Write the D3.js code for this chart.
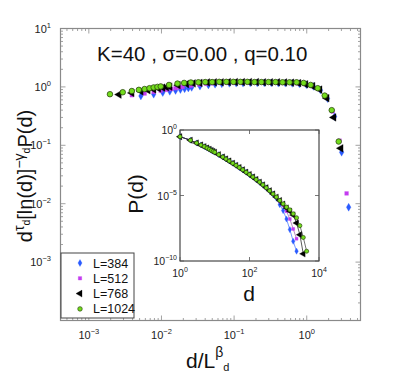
<!DOCTYPE html>
<html lang="en">
<head>
<meta charset="UTF-8">
<title>Scaled distance distribution</title>
<script src="https://cdnjs.cloudflare.com/ajax/libs/d3/7.8.5/d3.min.js"></script>
<style>
  body { margin: 0; background: #fff; }
  text { font-family: "Liberation Sans", Arial, sans-serif; }
</style>
</head>
<body>
<div id="container"></div>
<script>
// system sizes
var sizes = [384, 512, 768, 1024];
var beta = 1.0;

// distance bins d, shared by every size
var dBins = [1, 2, 3, 4, 5, 6, 7, 8, 9, 10, 13, 17, 21, 26, 33, 41, 51, 64, 80, 100,
  125, 156, 195, 243, 304, 380, 475, 594, 742, 928, 1160, 1450, 1810, 2260, 2820, 3530, 4410];

// main panel: d^tau [ln d]^-gamma P(d), from d = 2 on (ln 1 = 0)
var scaled384 = [0.70, 0.75, 0.80, 0.84, 0.87, 0.90, 0.93, 0.96, 0.98,
  1.03, 1.08, 1.11, 1.13, 1.15, 1.16, 1.16, 1.17, 1.17, 1.17, 1.17, 1.16, 1.16, 1.15,
  1.13, 1.09, 1.02, 0.88, 0.63, 0.31, 0.076, 0.0087];
var scaled512 = [0.72, 0.77, 0.82, 0.86, 0.89, 0.92, 0.95, 0.98, 1.00,
  1.05, 1.10, 1.13, 1.15, 1.17, 1.18, 1.18, 1.18, 1.19, 1.19, 1.19, 1.18, 1.18, 1.17,
  1.17, 1.15, 1.12, 1.04, 0.92, 0.70, 0.38, 0.12, 0.015];
var scaled768 = [0.74, 0.79, 0.84, 0.88, 0.91, 0.94, 0.97, 0.99, 1.01,
  1.07, 1.12, 1.15, 1.17, 1.19, 1.20, 1.20, 1.21, 1.21, 1.21, 1.21, 1.21, 1.20, 1.20,
  1.20, 1.19, 1.18, 1.16, 1.11, 1.03, 0.90, 0.64, 0.30, 0.089];
var scaled1024 = [0.75, 0.81, 0.85, 0.89, 0.92, 0.95, 0.98, 1.00, 1.02,
  1.08, 1.14, 1.17, 1.19, 1.20, 1.21, 1.21, 1.22, 1.22, 1.22, 1.22, 1.22, 1.21, 1.21,
  1.21, 1.21, 1.20, 1.20, 1.20, 1.17, 1.08, 0.95, 0.71, 0.40, 0.116];

// inset: raw P(d), from d = 1 on
var prob384 = [3.1e-1, 1.66e-1, 1.02e-1, 7.2e-2, 5.4e-2, 4.2e-2, 3.4e-2, 2.75e-2, 2.34e-2, 2.0e-2,
  1.32e-2, 8.7e-3, 6.2e-3, 4.3e-3, 2.9e-3, 2.0e-3, 1.35e-3, 9.0e-4, 6.0e-4, 3.9e-4,
  2.6e-4, 1.65e-4, 1.04e-4, 6.4e-5, 3.8e-5, 2.2e-5, 1.25e-5, 6.3e-6, 2.0e-6, 7.1e-7,
  1.6e-7, 2.5e-8, 3.2e-9, 5.6e-10];
var prob512 = [3.1e-1, 1.66e-1, 1.02e-1, 7.2e-2, 5.4e-2, 4.2e-2, 3.4e-2, 2.75e-2, 2.34e-2, 2.0e-2,
  1.32e-2, 8.7e-3, 6.2e-3, 4.3e-3, 2.9e-3, 2.0e-3, 1.35e-3, 9.1e-4, 6.0e-4, 4.0e-4,
  2.6e-4, 1.66e-4, 1.05e-4, 6.5e-5, 3.9e-5, 2.3e-5, 1.3e-5, 7.3e-6, 3.5e-6, 1.8e-6,
  6.3e-7, 1.6e-7, 2.8e-8, 5.0e-9];
var prob768 = [3.1e-1, 1.66e-1, 1.02e-1, 7.2e-2, 5.4e-2, 4.2e-2, 3.4e-2, 2.75e-2, 2.34e-2, 2.0e-2,
  1.32e-2, 8.7e-3, 6.2e-3, 4.3e-3, 2.9e-3, 2.0e-3, 1.35e-3, 9.1e-4, 6.0e-4, 4.0e-4,
  2.6e-4, 1.66e-4, 1.05e-4, 6.5e-5, 3.9e-5, 2.3e-5, 1.32e-5, 7.5e-6, 4.1e-6, 2.2e-6,
  1.1e-6, 6.3e-7, 3.2e-7, 7.9e-8, 1.0e-8, 3.5e-10];
var prob1024 = [3.1e-1, 1.66e-1, 1.02e-1, 7.2e-2, 5.4e-2, 4.2e-2, 3.4e-2, 2.75e-2, 2.34e-2, 2.0e-2,
  1.32e-2, 8.7e-3, 6.2e-3, 4.3e-3, 2.9e-3, 2.0e-3, 1.35e-3, 9.1e-4, 6.0e-4, 4.0e-4,
  2.6e-4, 1.66e-4, 1.05e-4, 6.5e-5, 3.9e-5, 2.3e-5, 1.32e-5, 7.6e-6, 4.2e-6, 2.3e-6,
  1.3e-6, 8.0e-7, 4.0e-7, 2.0e-7, 5.0e-8, 6.3e-9, 5.6e-10];

var mainTicksX = [-3, -2, -1, 0];
var mainTicksY = [-3, -2, -1, 0, 1];
var insetTicksX = [0, 2, 4];
var insetTicksY = [-10, -5, 0];

var scaledBySize = [scaled384, scaled512, scaled768, scaled1024];
var probBySize = [prob384, prob512, prob768, prob1024];

// look of each size, drawn in this order
var fills = ["#2a5bff", "#c43cf0", "#000000", "#72dc1c"];
var strokes = ["#2a5bff", "#c43cf0", "#000000", "#2d4a10"];
var lineColors = ["#3b6bff", "#9b5aa8", "#111111", "#333333"];
var shapes = [d3.symbolDiamond, d3.symbolSquare, d3.symbolTriangle, d3.symbolCircle];
var mainSizes = [18, 14, 26, 24];
var insetSizes = [11, 9, 18, 13];

var width = 399, height = 374;
var svg = d3.select("#container").append("svg")
  .attr("width", width)
  .attr("height", height);

var frame = { left: 60.5, right: 360.5, top: 28.5, bottom: 320.5 };
var inset = { left: 180, right: 319, top: 130, bottom: 261 };

var x = d3.scaleLog().domain([Math.pow(10, -3.39), Math.pow(10, 0.74)]).range([frame.left, frame.right]);
var y = d3.scaleLog().domain([1e-4, 10]).range([frame.bottom, frame.top]);
var xi = d3.scaleLog().domain([1, 1e4]).range([inset.left, inset.right]);
var yi = d3.scaleLog().domain([1e-10, 1]).range([inset.bottom, inset.top]);

function powLabel(sel, k, sup) {
  sel.append("tspan").text("10");
  sel.append("tspan").attr("dy", -5).attr("font-size", sup).text(String(k).replace("-", "\u2212"));
}

function symbolPath(i, size) {
  return d3.symbol().type(shapes[i]).size(size)();
}

function symbolTransform(i, px, py) {
  return "translate(" + px + "," + py + ")" + (i == 2 ? " rotate(-90)" : "");
}

// ---- main frame, ticks
var axisColor = "#8a8a8a";
svg.append("rect")
  .attr("x", frame.left).attr("y", frame.top)
  .attr("width", frame.right - frame.left).attr("height", frame.bottom - frame.top)
  .attr("fill", "none").attr("stroke", axisColor).attr("stroke-width", 1.2);

var gTicks = svg.append("g").attr("stroke", axisColor).attr("stroke-width", 0.8);
x.ticks().forEach(function(t) {
  var major = Math.abs(Math.log10(t) - Math.round(Math.log10(t))) < 1e-6;
  var len = major ? 5 : 2.5;
  var px = x(t);
  gTicks.append("line").attr("x1", px).attr("x2", px).attr("y1", frame.bottom).attr("y2", frame.bottom - len);
  gTicks.append("line").attr("x1", px).attr("x2", px).attr("y1", frame.top).attr("y2", frame.top + len);
});
y.ticks().forEach(function(t) {
  var major = Math.abs(Math.log10(t) - Math.round(Math.log10(t))) < 1e-6;
  var len = major ? 5 : 2.5;
  var py = y(t);
  gTicks.append("line").attr("y1", py).attr("y2", py).attr("x1", frame.left).attr("x2", frame.left + len);
  gTicks.append("line").attr("y1", py).attr("y2", py).attr("x1", frame.right).attr("x2", frame.right - len);
});

mainTicksX.forEach(function(k) {
  svg.append("text")
    .attr("x", x(Math.pow(10, k))).attr("y", 339)
    .attr("text-anchor", "middle").attr("font-size", 11).attr("fill", "#222")
    .call(powLabel, k, 7.5);
});
mainTicksY.forEach(function(k) {
  svg.append("text")
    .attr("x", 51).attr("y", y(Math.pow(10, k)) + 4)
    .attr("text-anchor", "end").attr("font-size", 11).attr("fill", "#222")
    .call(powLabel, k, 7.5);
});

// title
svg.append("text")
  .attr("x", 97).attr("y", 61)
  .attr("font-size", 20.5).attr("fill", "#111")
  .text("K=40 , \u03c3=0.00 , q=0.10");

// main axis labels
var ylab = svg.append("text")
  .attr("transform", "translate(32,176) rotate(-90)")
  .attr("text-anchor", "middle").attr("font-size", 20).attr("fill", "#111");
ylab.append("tspan").text("d");
ylab.append("tspan").attr("font-size", 14).attr("dy", -8).text("\u03c4");
ylab.append("tspan").attr("font-size", 10.5).attr("dy", 6).text("d");
ylab.append("tspan").attr("dy", 2).text("[ln(d)]");
ylab.append("tspan").attr("font-size", 14).attr("dy", -8).text("\u2212\u03b3");
ylab.append("tspan").attr("font-size", 10.5).attr("dy", 6).text("d");
ylab.append("tspan").attr("dy", 2).text("P(d)");

var xlab = svg.append("text")
  .attr("x", 186).attr("y", 368)
  .attr("font-size", 21).attr("fill", "#111");
xlab.append("tspan").text("d/L");
xlab.append("tspan").attr("font-size", 14).attr("dy", -11).text("\u03b2");
xlab.append("tspan").attr("font-size", 11).attr("dy", 14).text("d");

// ---- main data
sizes.forEach(function(L, i) {
  var vals = scaledBySize[i];
  var pts = vals.map(function(v, j) { return { d: dBins[j + 1], v: v }; });
  svg.append("g").selectAll("path").data(pts).enter().append("path")
    .attr("d", symbolPath(i, mainSizes[i]))
    .attr("transform", function(p) { return symbolTransform(i, x(p.d / Math.pow(L, beta)), y(p.v)); })
    .attr("fill", fills[i])
    .attr("stroke", strokes[i])
    .attr("stroke-width", i == 3 ? 0.8 : 0.3);
});

// ---- inset
svg.append("rect")
  .attr("x", inset.left).attr("y", inset.top)
  .attr("width", inset.right - inset.left).attr("height", inset.bottom - inset.top)
  .attr("fill", "#fff").attr("stroke", "#222").attr("stroke-width", 1);

var gi = svg.append("g").attr("stroke", "#555").attr("stroke-width", 0.8);
insetTicksX.forEach(function(k) {
  var px = xi(Math.pow(10, k));
  gi.append("line").attr("x1", px).attr("x2", px).attr("y1", inset.bottom).attr("y2", inset.bottom - 4);
  gi.append("line").attr("x1", px).attr("x2", px).attr("y1", inset.top).attr("y2", inset.top + 4);
  svg.append("text")
    .attr("x", px).attr("y", 277)
    .attr("text-anchor", "middle").attr("font-size", 10.5).attr("fill", "#222")
    .call(powLabel, k, 7);
});
insetTicksY.forEach(function(k) {
  var py = yi(Math.pow(10, k));
  gi.append("line").attr("y1", py).attr("y2", py).attr("x1", inset.left).attr("x2", inset.left + 4);
  gi.append("line").attr("y1", py).attr("y2", py).attr("x1", inset.right).attr("x2", inset.right - 4);
  svg.append("text")
    .attr("x", 177).attr("y", py + 4)
    .attr("text-anchor", "end").attr("font-size", 10.5).attr("fill", "#222")
    .call(powLabel, k, 7);
});

svg.append("text")
  .attr("transform", "translate(143,194) rotate(-90)")
  .attr("text-anchor", "middle").attr("font-size", 21).attr("fill", "#111")
  .text("P(d)");
svg.append("text")
  .attr("x", 249).attr("y", 301)
  .attr("text-anchor", "middle").attr("font-size", 21).attr("fill", "#111")
  .text("d");

var line = d3.line()
  .x(function(p) { return xi(p.d); })
  .y(function(p) { return yi(p.v); });

sizes.forEach(function(L, i) {
  var pts = probBySize[i].map(function(v, j) { return { d: dBins[j], v: v }; });
  svg.append("path").datum(pts)
    .attr("d", line)
    .attr("fill", "none")
    .attr("stroke", lineColors[i])
    .attr("stroke-width", 0.7);
});
sizes.forEach(function(L, i) {
  var pts = probBySize[i].map(function(v, j) { return { d: dBins[j], v: v }; });
  svg.append("g").selectAll("path").data(pts).enter().append("path")
    .attr("d", symbolPath(i, insetSizes[i]))
    .attr("transform", function(p) { return symbolTransform(i, xi(p.d), yi(p.v)); })
    .attr("fill", fills[i])
    .attr("stroke", strokes[i])
    .attr("stroke-width", i == 3 ? 0.7 : 0.3);
});

// ---- legend
var legend = svg.append("g");
legend.append("rect")
  .attr("x", 61).attr("y", 253).attr("width", 73).attr("height", 65)
  .attr("fill", "#fff").attr("stroke", "#444").attr("stroke-width", 1);
sizes.forEach(function(L, i) {
  var ly = 263 + i * 15.3;
  legend.append("path")
    .attr("d", symbolPath(i, insetSizes[i] + 3))
    .attr("transform", symbolTransform(i, 80, ly))
    .attr("fill", fills[i])
    .attr("stroke", strokes[i])
    .attr("stroke-width", i == 3 ? 0.7 : 0.3);
  legend.append("text")
    .attr("x", 93).attr("y", ly + 4.5)
    .attr("font-size", 12.5).attr("fill", "#111")
    .text("L=" + L);
});
</script>
</body>
</html>
